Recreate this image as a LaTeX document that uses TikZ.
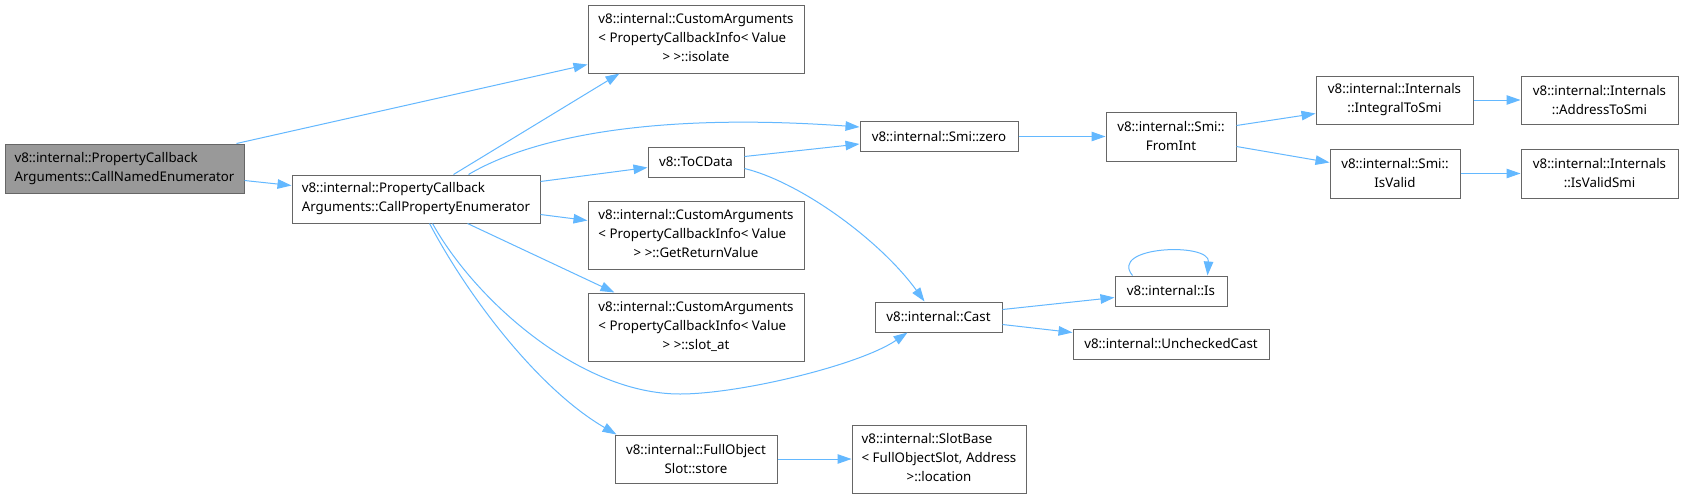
\documentclass[tikz,border=0pt]{standalone}
\usepackage{fontspec}
\setmainfont{Noto Sans}
\usetikzlibrary{arrows.meta,calc}
\definecolor{edgeblue}{HTML}{63B8FF}
\definecolor{bordergray}{HTML}{666666}
\definecolor{rootgray}{HTML}{999999}
\tikzset{
  fn/.style={draw=bordergray, line width=1pt, fill=white, inner sep=0pt, rectangle,
    font=\fontsize{13.3}{19}\selectfont, align=center, text=black},
  root/.style={fn, fill=rootgray},
  call/.style={draw=edgeblue, line width=1pt, -{Triangle[length=14pt,width=9.5pt]}},
}
\begin{document}
\begin{tikzpicture}[x=1pt,y=-1pt]
\fill[white] (0,0) rectangle (1683,498);
\useasboundingbox (0,0) rectangle (1683,498);

% nodes
\node[root, minimum width=239pt, minimum height=49pt, align=left] (named) at (124.5,168.5)
  {v8::internal::PropertyCallback\\Arguments::CallNamedEnumerator};
\node[fn, minimum width=248pt, minimum height=48pt, align=left] (prop) at (416,199)
  {v8::internal::PropertyCallback\\Arguments::CallPropertyEnumerator};
\node[fn, minimum width=216pt, minimum height=68pt] (isolate) at (696,39)
  {\begin{tabular}{@{}l@{}}v8::internal::CustomArguments\\< PropertyCallbackInfo< Value\\\multicolumn{1}{@{}c@{}}{> >::isolate}\end{tabular}};
\node[fn, minimum width=96pt, minimum height=30pt] (toc) at (696,162) {v8::ToCData};
\node[fn, minimum width=216pt, minimum height=68pt] (getret) at (696,235)
  {\begin{tabular}{@{}l@{}}v8::internal::CustomArguments\\< PropertyCallbackInfo< Value\\\multicolumn{1}{@{}c@{}}{> >::GetReturnValue}\end{tabular}};
\node[fn, minimum width=216pt, minimum height=68pt] (slotat) at (696,327)
  {\begin{tabular}{@{}l@{}}v8::internal::CustomArguments\\< PropertyCallbackInfo< Value\\\multicolumn{1}{@{}c@{}}{> >::slot\_at}\end{tabular}};
\node[fn, minimum width=162pt, minimum height=48pt] (store) at (696,459)
  {v8::internal::FullObject\\Slot::store};
\node[fn, minimum width=158pt, minimum height=30pt] (zero) at (939,136.5) {v8::internal::Smi::zero};
\node[fn, minimum width=127pt, minimum height=30pt] (cast) at (938.5,317) {v8::internal::Cast};
\node[fn, minimum width=174pt, minimum height=68pt] (slotbase) at (939,459)
  {\begin{tabular}{@{}l@{}}v8::internal::SlotBase\\< FullObjectSlot, Address\\\multicolumn{1}{@{}c@{}}{>::location}\end{tabular}};
\node[fn, minimum width=130pt, minimum height=49pt] (fromint) at (1171,136.5)
  {v8::internal::Smi::\\FromInt};
\node[fn, minimum width=112pt, minimum height=30pt] (is) at (1171,291) {v8::internal::Is};
\node[fn, minimum width=196pt, minimum height=30pt] (unchecked) at (1171,344) {v8::internal::UncheckedCast};
\node[fn, minimum width=157pt, minimum height=48pt] (integral) at (1394.5,100)
  {v8::internal::Internals\\::IntegralToSmi};
\node[fn, minimum width=130pt, minimum height=49pt] (isvalid) at (1395,173.5)
  {v8::internal::Smi::\\IsValid};
\node[fn, minimum width=157pt, minimum height=48pt] (address) at (1599.5,100)
  {v8::internal::Internals\\::AddressToSmi};
\node[fn, minimum width=157pt, minimum height=49pt] (isvalidsmi) at (1599.5,173.5)
  {v8::internal::Internals\\::IsValidSmi};

% edges
\draw[call] ($(named.north west)+(232,0)$) -- ($(isolate.south west)+(0,-9)$);
\draw[call] ($(named.north east)+(0,37)$) -- ($(prop.north west)+(0,11)$);
\draw[call] ($(prop.north west)+(162,0)$) -- ($(isolate.south west)+(32,0)$);
\draw[call] ($(prop.north west)+(177,0)$) .. controls (530,138) and (650,112) .. ($(zero.north west)+(0,6)$);
\draw[call] ($(prop.north east)+(0,7)$) -- ($(toc.north west)+(0,21)$);
\draw[call] ($(toc.north east)+(0,10)$) -- ($(zero.north west)+(0,23)$);
\draw[call] ($(toc.north east)+(0,22)$) .. controls (800,182) and (880,240) .. ($(cast.north west)+(50,0)$);
\draw[call] ($(prop.north east)+(0,40)$) -- ($(getret.north west)+(0,20)$);
\draw[call] ($(prop.south west)+(176,0)$) -- ($(slotat.north west)+(27,0)$);
\draw[call] ($(prop.south west)+(141,0)$) .. controls (475,300) and (580,394) .. (680,394)
  .. controls (740,394) and (860,365) .. ($(cast.south west)+(33,0)$);
\draw[call] ($(prop.south west)+(138,0)$) .. controls (470,300) and (540,390) .. ($(store.north west)+(2,0)$);
\draw[call] (store.east) -- (slotbase.west);
\draw[call] (zero.east) -- (fromint.west);
\draw[call] ($(fromint.north east)+(0,14)$) -- ($(integral.north west)+(0,38)$);
\draw[call] ($(fromint.north east)+(0,35)$) -- ($(isvalid.north west)+(0,14)$);
\draw[call] (integral.east) -- (address.west);
\draw[call] (isvalid.east) -- (isvalidsmi.west);
\draw[call] ($(cast.north east)+(0,8)$) -- ($(is.north west)+(0,22)$);
\draw[call] ($(cast.north east)+(0,23)$) -- ($(unchecked.north west)+(0,4)$);
\draw[call] ($(is.north west)+(18,0)$) .. controls (1108,246) and (1210,242) .. ($(is.north west)+(93,0)$);
\end{tikzpicture}
\end{document}
